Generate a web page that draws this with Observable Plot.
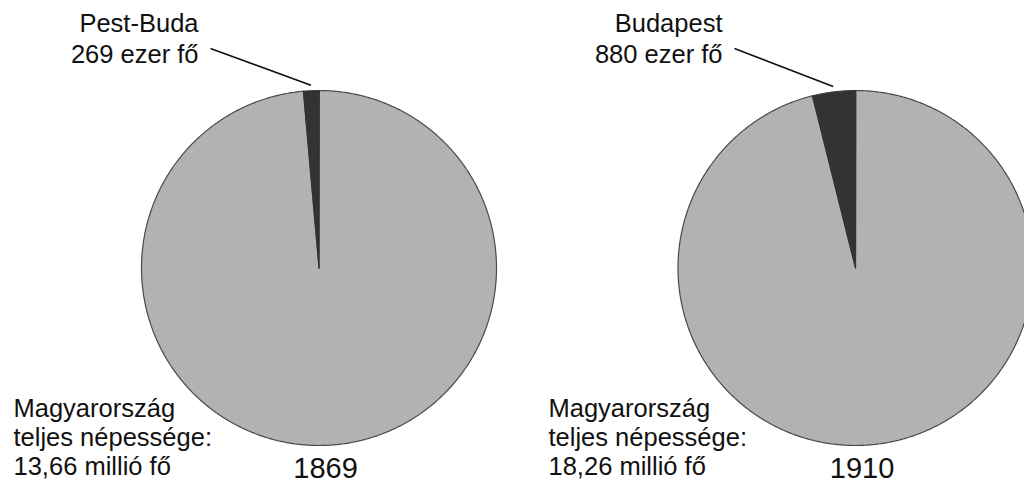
<!DOCTYPE html>
<html><head><meta charset="utf-8">
<script src="https://cdn.jsdelivr.net/npm/d3@7"></script>
<script src="https://cdn.jsdelivr.net/npm/@observablehq/plot@0.6"></script>
<style>html,body{margin:0;padding:0;background:#fff;} svg{display:block}</style>
</head><body><div id="chart"></div>
<script>
// ---- data ----
const years = ["1869", "1910"];
const cityNames = ["Pest-Buda", "Budapest"];
const cityPopThousand = [269, 880];
const totalPopMillion = [13.66, 18.26];
const citySharePct = [1.4, 3.9];   // share of the pie drawn dark

// ---- layout ----
const W = 1024, H = 489;
const R = 177.5;            // pie radius, px
const CX0 = 318.5, CY = 267.5, GAP = 536.5;
const topLabelRight = [-120.5, -133];   // px from pie centre
const bottomLabelLeft = [-305.5, -307];
const fontFamily = "'Liberation Sans', Arial, Helvetica, sans-serif";

const pies = years.map((y, i) => ({
  i, year: y, name: cityNames[i],
  city: cityPopThousand[i], total: totalPopMillion[i],
  theta: citySharePct[i] / 100 * 360,
  cx: i * GAP / R
}));

function arcRows(p, slice, a0, a1) {
  const rows = [{pie: p.i, slice, u: p.cx, v: 0}];
  const n = Math.max(2, Math.ceil(Math.abs(a1 - a0) / 0.5));
  for (let k = 0; k <= n; k++) {
    const a = (a0 + (a1 - a0) * k / n) * Math.PI / 180;
    rows.push({pie: p.i, slice, u: p.cx + Math.sin(a), v: Math.cos(a)});
  }
  return rows;
}
const grayRows = pies.flatMap(p => arcRows(p, "rest", 0, 360 - p.theta));
const darkRows = pies.flatMap(p => arcRows(p, "city", -p.theta, 0));

const fmt = v => v.toFixed(2).replace(".", ",");
const px = d => d / R;

const chart = Plot.plot({
  width: W, height: H, margin: 0,
  x: {type: "linear", domain: [-CX0 / R, (W - CX0) / R], range: [0, W], axis: null},
  y: {type: "linear", domain: [-(H - CY) / R, CY / R], range: [H, 0], axis: null},
  style: {fontFamily, background: "#fff", color: "#111"},
  marks: [
    Plot.line(grayRows, {x: "u", y: "v", z: "pie", curve: "linear-closed",
      fill: "#b2b2b2", stroke: "#4a4a4a", strokeWidth: 1.2}),
    Plot.line(darkRows, {x: "u", y: "v", z: "pie", curve: "linear-closed",
      fill: "#333333", stroke: "#333333", strokeWidth: 1}),
    Plot.link(pies, {
      x1: p => p.cx + px(topLabelRight[p.i] + 12), y1: px(CY - 48),
      x2: p => p.cx + 1.03 * Math.sin(-p.theta / 2 * Math.PI / 180),
      y2: p => 1.03 * Math.cos(p.theta / 2 * Math.PI / 180),
      stroke: "#111", strokeWidth: 1.6
    }),
    Plot.text(pies, {
      x: p => p.cx + px(topLabelRight[p.i]), y: px(CY - 37),
      text: p => `${p.name}\n${p.city} ezer fő`,
      textAnchor: "end", lineAnchor: "middle", lineHeight: 1.216,
      fontSize: 25.5, fill: "#111"
    }),
    Plot.text(pies, {
      x: p => p.cx + px(bottomLabelLeft[p.i]), y: -px(436 - CY),
      text: p => `Magyarország\nteljes népessége:\n${fmt(p.total)} millió fő`,
      textAnchor: "start", lineAnchor: "middle", lineHeight: 1.15,
      fontSize: 25.5, fill: "#111"
    }),
    Plot.text(pies, {
      x: p => p.cx + px(6.5), y: -px(468 - CY),
      text: "year", textAnchor: "middle", lineAnchor: "middle",
      fontSize: 29, fill: "#111"
    })
  ]
});
document.getElementById("chart").appendChild(chart);
</script>
</body></html>
